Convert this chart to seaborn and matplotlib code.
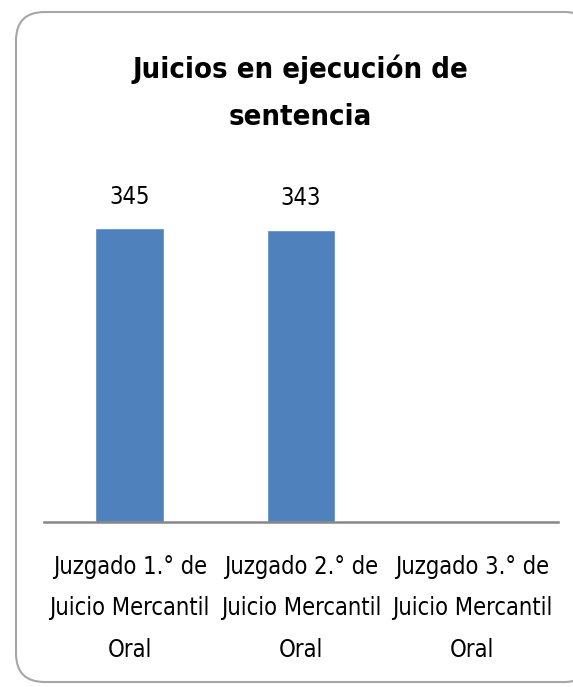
import numpy as np
import pandas as pd
import matplotlib
matplotlib.use("Agg")
import matplotlib.pyplot as plt
from matplotlib.patches import FancyBboxPatch
import seaborn as sns

categories = ["Juzgado 1.° de\nJuicio Mercantil\nOral",
              "Juzgado 2.° de\nJuicio Mercantil\nOral",
              "Juzgado 3.° de\nJuicio Mercantil\nOral"]
values = [345, 343, np.nan]
title = "Juicios en ejecución de\nsentencia"

sns.set_theme(style="white")
plt.rcParams['font.family'] = ['DejaVu Sans']
plt.rcParams['font.stretch'] = 'condensed'
plt.rcParams['text.color'] = 'black'

df = pd.DataFrame({"juzgado": categories, "juicios": values})

W, H = 573, 687
fig = plt.figure(figsize=(W / 100, H / 100), dpi=100)

# rounded frame around the whole chart (cut off on the right and bottom)
frame = FancyBboxPatch((16 / W, 1 - 682 / H), (W + 20 - 16) / W, (682 - 12) / H,
                       boxstyle="round,pad=0,rounding_size=0.05",
                       transform=fig.transFigure, facecolor="white",
                       edgecolor="#a6a6a6", linewidth=1.5, mutation_aspect=W / H,
                       zorder=-5)
fig.patches.append(frame)

ax = fig.add_axes([44 / W, 1 - 522 / H, 514 / W, 340.9 / H])
ax.set_facecolor("none")
sns.barplot(data=df, x="juzgado", y="juicios", color="#4f81bd", width=0.4,
            saturation=1, ax=ax)
ax.set_ylim(0, 400)
ax.set_xlim(-0.5, 2.5)

# value labels, skipping the category without data
for i, v in enumerate(values):
    if not np.isnan(v):
        ax.annotate(f"{v:.0f}", (i, v), xytext=(0, 14), textcoords="offset points",
                    ha="center", va="bottom", fontsize=17)

for s in ["top", "right", "left"]:
    ax.spines[s].set_visible(False)
ax.spines["bottom"].set_color("#868686")
ax.spines["bottom"].set_linewidth(1.8)
ax.set_yticks([])
ax.set_xlabel("")
ax.set_ylabel("")
ax.tick_params(axis="x", length=0, pad=24, labelsize=17, labelcolor="black")
for t in ax.get_xticklabels():
    t.set_linespacing(1.9)

fig.text(300 / W, 1 - 93 / H, title, ha="center", va="center",
         fontsize=21, fontweight="bold", linespacing=1.85)

fig.savefig("out.png", dpi=100)
